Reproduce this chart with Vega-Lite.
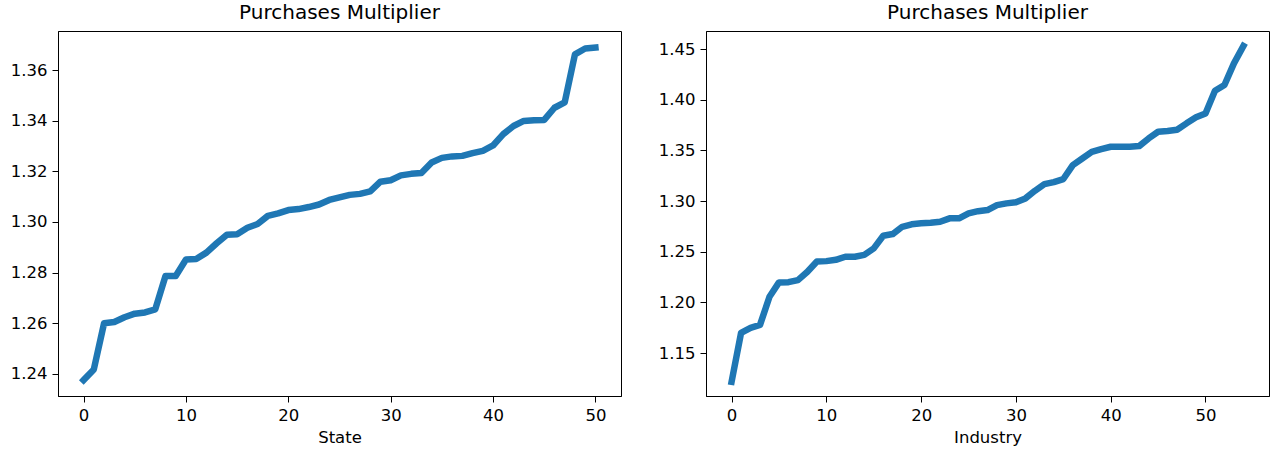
{
  "$schema": "https://vega.github.io/schema/vega-lite/v6.json",
  "padding": {"left": 9, "top": 2, "right": 5, "bottom": 5},
  "background": "white",
  "spacing": 35,
  "config": {
    "font": "DejaVu Sans",
    "view": {"stroke": "black", "strokeWidth": 1},
    "axis": {
      "grid": false,
      "domainColor": "black",
      "tickColor": "black",
      "tickSize": 6,
      "labelPadding": 5,
      "labelFontSize": 16.5,
      "labelColor": "black",
      "labelFont": "DejaVu Sans",
      "titleFont": "DejaVu Sans",
      "titleFontSize": 16.5,
      "titleFontWeight": "normal",
      "titleColor": "black",
      "titlePadding": 6
    },
    "title": {"font": "DejaVu Sans", "fontSize": 20, "fontWeight": "normal", "color": "black", "offset": 8}
  },
  "datasets": {
    "state": [
      {"i": 0, "v": 1.2376}, {"i": 1, "v": 1.2418}, {"i": 2, "v": 1.2600}, {"i": 3, "v": 1.2605},
      {"i": 4, "v": 1.2624}, {"i": 5, "v": 1.2638}, {"i": 6, "v": 1.2643}, {"i": 7, "v": 1.2655},
      {"i": 8, "v": 1.2787}, {"i": 9, "v": 1.2787}, {"i": 10, "v": 1.2852}, {"i": 11, "v": 1.2854},
      {"i": 12, "v": 1.2879}, {"i": 13, "v": 1.2916}, {"i": 14, "v": 1.2950}, {"i": 15, "v": 1.2952},
      {"i": 16, "v": 1.2977}, {"i": 17, "v": 1.2992}, {"i": 18, "v": 1.3024}, {"i": 19, "v": 1.3034},
      {"i": 20, "v": 1.3047}, {"i": 21, "v": 1.3051}, {"i": 22, "v": 1.3059}, {"i": 23, "v": 1.3069},
      {"i": 24, "v": 1.3087}, {"i": 25, "v": 1.3097}, {"i": 26, "v": 1.3107}, {"i": 27, "v": 1.3111},
      {"i": 28, "v": 1.3121}, {"i": 29, "v": 1.3159}, {"i": 30, "v": 1.3165}, {"i": 31, "v": 1.3184},
      {"i": 32, "v": 1.3190}, {"i": 33, "v": 1.3193}, {"i": 34, "v": 1.3235}, {"i": 35, "v": 1.3253},
      {"i": 36, "v": 1.3259}, {"i": 37, "v": 1.3261}, {"i": 38, "v": 1.3272}, {"i": 39, "v": 1.3281},
      {"i": 40, "v": 1.3302}, {"i": 41, "v": 1.3347}, {"i": 42, "v": 1.3379}, {"i": 43, "v": 1.3399},
      {"i": 44, "v": 1.3402}, {"i": 45, "v": 1.3403}, {"i": 46, "v": 1.3451}, {"i": 47, "v": 1.3472},
      {"i": 48, "v": 1.3662}, {"i": 49, "v": 1.3685}, {"i": 50, "v": 1.3689}
    ],
    "industry": [
      {"i": 0, "v": 1.1216}, {"i": 1, "v": 1.1699}, {"i": 2, "v": 1.1749}, {"i": 3, "v": 1.1778},
      {"i": 4, "v": 1.2055}, {"i": 5, "v": 1.2197}, {"i": 6, "v": 1.2199}, {"i": 7, "v": 1.2220},
      {"i": 8, "v": 1.2302}, {"i": 9, "v": 1.2404}, {"i": 10, "v": 1.2407}, {"i": 11, "v": 1.2420},
      {"i": 12, "v": 1.2450}, {"i": 13, "v": 1.2450}, {"i": 14, "v": 1.2469}, {"i": 15, "v": 1.2533},
      {"i": 16, "v": 1.2657}, {"i": 17, "v": 1.2674}, {"i": 18, "v": 1.2746}, {"i": 19, "v": 1.2770},
      {"i": 20, "v": 1.2780}, {"i": 21, "v": 1.2785}, {"i": 22, "v": 1.2795}, {"i": 23, "v": 1.2829},
      {"i": 24, "v": 1.2829}, {"i": 25, "v": 1.2878}, {"i": 26, "v": 1.2900}, {"i": 27, "v": 1.2911},
      {"i": 28, "v": 1.2960}, {"i": 29, "v": 1.2977}, {"i": 30, "v": 1.2987}, {"i": 31, "v": 1.3026},
      {"i": 32, "v": 1.3101}, {"i": 33, "v": 1.3167}, {"i": 34, "v": 1.3187}, {"i": 35, "v": 1.3217},
      {"i": 36, "v": 1.3355}, {"i": 37, "v": 1.3420}, {"i": 38, "v": 1.3486}, {"i": 39, "v": 1.3513},
      {"i": 40, "v": 1.3536}, {"i": 41, "v": 1.3536}, {"i": 42, "v": 1.3536}, {"i": 43, "v": 1.3542},
      {"i": 44, "v": 1.3618}, {"i": 45, "v": 1.3684}, {"i": 46, "v": 1.3691}, {"i": 47, "v": 1.3703},
      {"i": 48, "v": 1.3767}, {"i": 49, "v": 1.3826}, {"i": 50, "v": 1.3865}, {"i": 51, "v": 1.4088},
      {"i": 52, "v": 1.4145}, {"i": 53, "v": 1.4359}, {"i": 54, "v": 1.4530}
    ]
  },
  "hconcat": [
    {
      "width": 563,
      "height": 365,
      "title": "Purchases Multiplier",
      "data": {"name": "state"},
      "mark": {"type": "line", "color": "#1f77b4", "strokeWidth": 6.5, "strokeCap": "square", "strokeJoin": "round", "clip": true},
      "encoding": {
        "x": {"field": "i", "type": "quantitative", "title": "State",
              "scale": {"domain": [-2.5, 52.5], "nice": false, "zero": false},
              "axis": {"values": [0, 10, 20, 30, 40, 50], "format": "d"}},
        "y": {"field": "v", "type": "quantitative", "title": null,
              "scale": {"domain": [1.2313, 1.3754], "nice": false, "zero": false},
              "axis": {"values": [1.24, 1.26, 1.28, 1.30, 1.32, 1.34, 1.36], "format": ".2f"}}
      }
    },
    {
      "width": 563,
      "height": 365,
      "title": "Purchases Multiplier",
      "data": {"name": "industry"},
      "mark": {"type": "line", "color": "#1f77b4", "strokeWidth": 6.5, "strokeCap": "square", "strokeJoin": "round", "clip": true},
      "encoding": {
        "x": {"field": "i", "type": "quantitative", "title": "Industry",
              "scale": {"domain": [-2.7, 56.7], "nice": false, "zero": false},
              "axis": {"values": [0, 10, 20, 30, 40, 50], "format": "d"}},
        "y": {"field": "v", "type": "quantitative", "title": null,
              "scale": {"domain": [1.1076, 1.4678], "nice": false, "zero": false},
              "axis": {"values": [1.15, 1.20, 1.25, 1.30, 1.35, 1.40, 1.45], "format": ".2f"}}
      }
    }
  ]
}
